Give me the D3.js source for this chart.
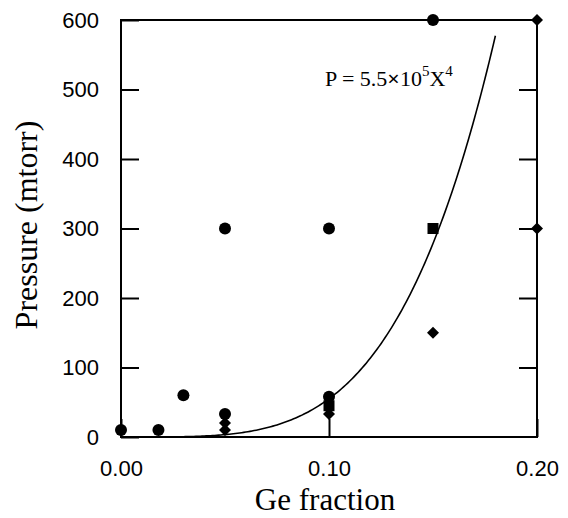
<!DOCTYPE html>
<html>
<head>
<meta charset="utf-8">
<script src="https://cdn.jsdelivr.net/npm/d3@7"></script>
<style>
  body { margin: 0; background: #fff; }
  svg { display: block; }
</style>
</head>
<body>
<div id="chart"></div>
<script>
// Data
const circleX = [0, 0.018, 0.03, 0.05, 0.05, 0.10, 0.10, 0.15];
const circleY = [10, 10, 60, 33, 300, 300, 58, 600];
const squareX = [0.10, 0.15];
const squareY = [45, 300];
const diamondX = [0.05, 0.05, 0.10, 0.15, 0.20, 0.20];
const diamondY = [20, 10, 33, 150, 300, 600];

// Fit shown in the figure: P = 5.5e5 * X^4, drawn up to X = 0.18
const fitCoef = 5.5e5;
const fitPow = 4;
const fitMaxX = 0.18;

const xTicks = [0, 0.10, 0.20];
const yTicks = [0, 100, 200, 300, 400, 500, 600];

const width = 568, height = 518;
const margin = { top: 20, right: 31, bottom: 81, left: 121 };
const innerWidth = width - margin.left - margin.right;
const innerHeight = height - margin.top - margin.bottom;

const svg = d3.select('#chart').append('svg')
    .attr('width', width)
    .attr('height', height)
    .style('background', '#fff');

const g = svg.append('g')
    .attr('transform', `translate(${margin.left},${margin.top})`);

const x = d3.scaleLinear().domain([0, 0.2]).range([0, innerWidth]);
const y = d3.scaleLinear().domain([0, 600]).range([innerHeight, 0]);

const tickFont = '"Liberation Sans", Arial, sans-serif';
const titleFont = '"Liberation Serif", "Times New Roman", serif';

// Axes with inward ticks
const left = g.append('g')
    .call(d3.axisLeft(y).tickValues(yTicks).tickSizeInner(-18).tickSizeOuter(0).tickPadding(22));
const right = g.append('g')
    .attr('transform', `translate(${innerWidth},0)`)
    .call(d3.axisRight(y).tickValues(yTicks.slice(1, -1)).tickSizeInner(-18).tickSizeOuter(0));
right.selectAll('text').remove();
const bottom = g.append('g')
    .attr('transform', `translate(0,${innerHeight})`)
    .call(d3.axisBottom(x).tickValues(xTicks).tickSizeInner(-18).tickSizeOuter(0).tickPadding(23)
        .tickFormat(d3.format('.2f')));

[left, right, bottom].forEach(ax => {
    ax.select('.domain').remove();
    ax.selectAll('line').attr('stroke', '#000').attr('stroke-width', 2);
    ax.selectAll('text')
        .style('font-family', tickFont)
        .style('font-size', '22px')
        .attr('fill', '#000');
});

// Frame
g.append('rect')
    .attr('width', innerWidth)
    .attr('height', innerHeight)
    .attr('fill', 'none')
    .attr('stroke', '#000')
    .attr('stroke-width', 2);

// Fit curve
const fitPts = d3.range(0, 181).map(i => {
    const xv = fitMaxX * i / 180;
    return [xv, fitCoef * Math.pow(xv, fitPow)];
});
g.append('path')
    .datum(fitPts)
    .attr('fill', 'none')
    .attr('stroke', '#000')
    .attr('stroke-width', 1.6)
    .attr('d', d3.line().x(d => x(d[0])).y(d => y(d[1])));

// Markers
g.selectAll('.circle')
    .data(d3.zip(circleX, circleY))
    .join('circle')
    .attr('class', 'circle')
    .attr('cx', d => x(d[0]))
    .attr('cy', d => y(d[1]))
    .attr('r', 6)
    .attr('fill', '#000');

g.selectAll('.square')
    .data(d3.zip(squareX, squareY))
    .join('rect')
    .attr('class', 'square')
    .attr('x', d => x(d[0]) - 5.5)
    .attr('y', d => y(d[1]) - 5.5)
    .attr('width', 11)
    .attr('height', 11)
    .attr('fill', '#000');

g.selectAll('.diamond')
    .data(d3.zip(diamondX, diamondY))
    .join('path')
    .attr('class', 'diamond')
    .attr('transform', d => `translate(${x(d[0])},${y(d[1])})`)
    .attr('d', 'M0,-6L6,0L0,6L-6,0Z')
    .attr('fill', '#000');

// Equation label
const eq = g.append('text')
    .attr('x', 204)
    .attr('y', 66)
    .style('font-family', titleFont)
    .style('font-size', '22px')
    .attr('fill', '#000');
eq.append('tspan').text('P = 5.5');
eq.append('tspan').style('font-weight', 'bold').text('\u00d7');
eq.append('tspan').text('10');
eq.append('tspan').attr('dy', -10).style('font-size', '15px').text('5');
eq.append('tspan').attr('dy', 10).text('X');
eq.append('tspan').attr('dy', -10).style('font-size', '15px').text('4');

// Axis titles
svg.append('text')
    .attr('x', margin.left + x(0.1) - 4)
    .attr('y', 510)
    .attr('text-anchor', 'middle')
    .style('font-family', titleFont)
    .style('font-size', '31px')
    .attr('fill', '#000')
    .text('Ge fraction');

svg.append('text')
    .attr('transform', 'translate(37,225) rotate(-90)')
    .attr('text-anchor', 'middle')
    .style('font-family', titleFont)
    .style('font-size', '32px')
    .attr('fill', '#000')
    .text('Pressure (mtorr)');
</script>
</body>
</html>
